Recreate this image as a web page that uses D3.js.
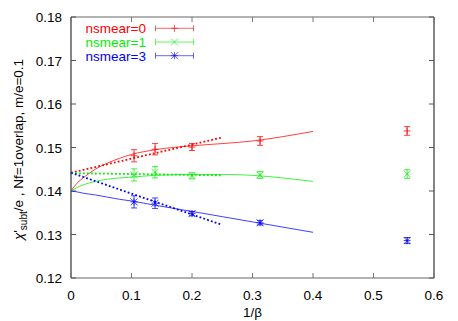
<!DOCTYPE html>
<html>
<head>
<meta charset="utf-8">
<script src="https://cdn.jsdelivr.net/npm/d3@7"></script>
<style>
body { margin: 0; background: #fff; }
text { font-family: "Liberation Sans", Arial, sans-serif; }
</style>
</head>
<body>
<div id="chart"></div>
<script>
// data
var invBeta = [0.1042, 0.1389, 0.2, 0.3125, 0.5556];
var series = ["nsmear=0", "nsmear=1", "nsmear=3"];
var colors = ["#ff0000", "#00f000", "#0000ff"];
var markers = ["plus", "cross", "star"];
var red = [0.1481, 0.1496, 0.1501, 0.1515, 0.1538];
var redErr = [0.0014, 0.0013, 0.0008, 0.0010, 0.0010];
var green = [0.1437, 0.1443, 0.1435, 0.1437, 0.1439];
var greenErr = [0.0014, 0.0013, 0.0007, 0.0008, 0.0010];
var blue = [0.1375, 0.1372, 0.1348, 0.1327, 0.1286];
var blueErr = [0.0014, 0.0012, 0.0005, 0.0005, 0.0007];

// fit curves (solid) and linear fits (dotted)
var fitX = [0, 0.01, 0.02, 0.04, 0.06, 0.08, 0.1, 0.14, 0.2, 0.25, 0.3, 0.35, 0.4];
var redFit = [0.1400, 0.1418, 0.1430, 0.1450, 0.1464, 0.1475, 0.1484, 0.1495, 0.1504, 0.1509, 0.1515, 0.1525, 0.1537];
var greenFit = [0.1400, 0.1408, 0.1414, 0.1422, 0.1427, 0.1430, 0.1432, 0.1436, 0.1438, 0.1438, 0.1436, 0.1430, 0.1422];
var blueFit = [0.1400, 0.1398, 0.1395, 0.1391, 0.1386, 0.1381, 0.1377, 0.1367, 0.1353, 0.1341, 0.1329, 0.1317, 0.1305];
var linX = [0, 0.25];
var redLin = [0.1442, 0.1523];
var greenLin = [0.1441, 0.1436];
var blueLin = [0.1442, 0.1322];

var xTicks = [0, 0.1, 0.2, 0.3, 0.4, 0.5, 0.6];
var yTicks = [0.12, 0.13, 0.14, 0.15, 0.16, 0.17, 0.18];

var width = 458, height = 321;
var margin = {top: 17, right: 24, bottom: 43, left: 71};
var w = width - margin.left - margin.right;
var h = height - margin.top - margin.bottom;

var svg = d3.select('#chart').append('svg')
	.attr('width', width)
	.attr('height', height);

var x = d3.scaleLinear().domain([0, 0.6]).range([margin.left, margin.left + w]);
var y = d3.scaleLinear().domain([0.12, 0.18]).range([margin.top + h, margin.top]);

// frame
var x0 = x(0), x1 = x(0.6), y0 = y(0.12), y1 = y(0.18);
svg.append('line').attr('x1', x0).attr('x2', x1).attr('y1', y1).attr('y2', y1)
	.attr('stroke', '#999').attr('stroke-width', 1.5);
svg.append('line').attr('x1', x0).attr('x2', x1).attr('y1', y0).attr('y2', y0)
	.attr('stroke', '#999').attr('stroke-width', 1.5);
svg.append('line').attr('x1', x0).attr('x2', x0).attr('y1', y1).attr('y2', y0)
	.attr('stroke', '#333').attr('stroke-width', 1.2);
svg.append('line').attr('x1', x1).attr('x2', x1).attr('y1', y1).attr('y2', y0)
	.attr('stroke', '#333').attr('stroke-width', 1.2);

// ticks pointing inward on all sides
var tl = 5;
xTicks.forEach(function(t) {
	svg.append('line').attr('x1', x(t)).attr('x2', x(t)).attr('y1', y0).attr('y2', y0 - tl)
		.attr('stroke', '#777');
	svg.append('line').attr('x1', x(t)).attr('x2', x(t)).attr('y1', y1).attr('y2', y1 + tl)
		.attr('stroke', '#777');
	svg.append('text').attr('x', x(t)).attr('y', y0 + 22)
		.attr('text-anchor', 'middle').attr('font-size', 13.5).attr('fill', '#000')
		.text(t === 0 ? '0' : d3.format('.1f')(t));
});
yTicks.forEach(function(t) {
	svg.append('line').attr('x1', x0).attr('x2', x0 + tl).attr('y1', y(t)).attr('y2', y(t))
		.attr('stroke', '#555');
	svg.append('line').attr('x1', x1).attr('x2', x1 - tl).attr('y1', y(t)).attr('y2', y(t))
		.attr('stroke', '#555');
	svg.append('text').attr('x', x0 - 9).attr('y', y(t) + 5)
		.attr('text-anchor', 'end').attr('font-size', 13.5).attr('fill', '#000')
		.text(d3.format('.2f')(t));
});

// axis labels
svg.append('text').attr('x', (x0 + x1) / 2).attr('y', y0 + 39)
	.attr('text-anchor', 'middle').attr('font-size', 13.5).text('1/β');

var yl = svg.append('text')
	.attr('transform', 'translate(23,' + ((y0 + y1) / 2 + 2) + ') rotate(-90)')
	.attr('text-anchor', 'middle').attr('font-size', 13.5);
yl.append('tspan').style('font-style', 'italic').text('χ');
yl.append('tspan').text('\'');
yl.append('tspan').attr('dy', 4).attr('font-size', 10).text('subt');
yl.append('tspan').attr('dy', -4).text('/e ,  Nf=1overlap, m/e=0.1');

// fit lines
var line = d3.line()
	.x(function(d) { return x(d[0]); })
	.y(function(d) { return y(d[1]); })
	.curve(d3.curveMonotoneX);

var fits = [redFit, greenFit, blueFit];
var lins = [redLin, greenLin, blueLin];
fits.forEach(function(f, i) {
	svg.append('path').datum(d3.zip(fitX, f))
		.attr('d', line).attr('fill', 'none')
		.attr('stroke', colors[i]).attr('stroke-width', 1).attr('stroke-opacity', 0.75);
});
lins.forEach(function(f, i) {
	svg.append('path').datum(d3.zip(linX, f))
		.attr('d', line).attr('fill', 'none')
		.attr('stroke', colors[i]).attr('stroke-width', 1.8)
		.attr('stroke-dasharray', '1.8,2.2');
});

function drawMarker(g, kind, cx, cy, color) {
	var s = 3.5;
	if (kind === 'plus' || kind === 'star') {
		g.append('line').attr('x1', cx - s).attr('x2', cx + s).attr('y1', cy).attr('y2', cy)
			.attr('stroke', color);
		g.append('line').attr('x1', cx).attr('x2', cx).attr('y1', cy - s).attr('y2', cy + s)
			.attr('stroke', color);
	}
	if (kind === 'cross' || kind === 'star') {
		g.append('line').attr('x1', cx - s).attr('x2', cx + s).attr('y1', cy - s).attr('y2', cy + s)
			.attr('stroke', color);
		g.append('line').attr('x1', cx - s).attr('x2', cx + s).attr('y1', cy + s).attr('y2', cy - s)
			.attr('stroke', color);
	}
}

// data points with error bars
var vals = [red, green, blue];
var errs = [redErr, greenErr, blueErr];
vals.forEach(function(v, i) {
	var g = svg.append('g').attr('stroke-opacity', 0.75);
	v.forEach(function(d, j) {
		var cx = x(invBeta[j]);
		var ya = y(d + errs[i][j]), yb = y(d - errs[i][j]);
		g.append('line').attr('x1', cx).attr('x2', cx).attr('y1', ya).attr('y2', yb)
			.attr('stroke', colors[i]);
		g.append('line').attr('x1', cx - 3).attr('x2', cx + 3).attr('y1', ya).attr('y2', ya)
			.attr('stroke', colors[i]);
		g.append('line').attr('x1', cx - 3).attr('x2', cx + 3).attr('y1', yb).attr('y2', yb)
			.attr('stroke', colors[i]);
		drawMarker(g, markers[i], cx, y(d), colors[i]);
	});
});

// legend
series.forEach(function(s, i) {
	var ly = 28.3 + i * 13.7;
	svg.append('text').attr('x', 146).attr('y', ly + 5)
		.attr('text-anchor', 'end').attr('font-size', 13.5).attr('fill', colors[i]).text(s);
	var g = svg.append('g').attr('stroke-opacity', 0.6);
	g.append('line').attr('x1', 155.5).attr('x2', 193.5).attr('y1', ly).attr('y2', ly)
		.attr('stroke', colors[i]);
	g.append('line').attr('x1', 155.5).attr('x2', 155.5).attr('y1', ly - 3).attr('y2', ly + 3)
		.attr('stroke', colors[i]);
	g.append('line').attr('x1', 193.5).attr('x2', 193.5).attr('y1', ly - 3).attr('y2', ly + 3)
		.attr('stroke', colors[i]);
	drawMarker(g, markers[i], 174.5, ly, colors[i]);
});
</script>
</body>
</html>
